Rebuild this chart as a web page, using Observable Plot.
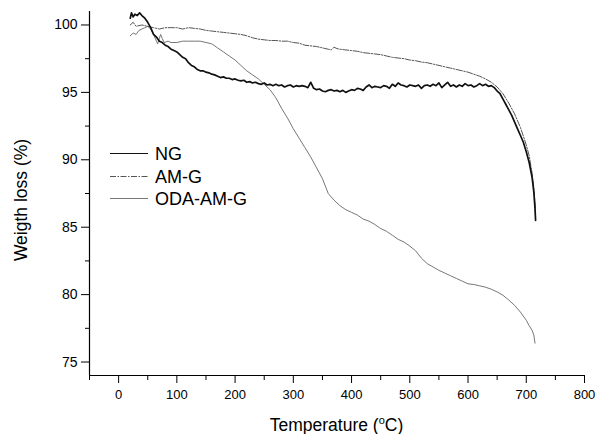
<!DOCTYPE html>
<html><head><meta charset="utf-8">
<script src="https://cdn.jsdelivr.net/npm/d3@7"></script>
<script src="https://cdn.jsdelivr.net/npm/@observablehq/plot@0.6"></script>
<style>
body{margin:0;background:#fff;}
#chart svg{font-family:Arial,"Liberation Sans",sans-serif;}
</style>
</head><body><div id="chart"></div>
<script>
const seriesNames = ["NG", "AM-G", "ODA-AM-G"];

const ngTemp = [20,22,25,28,32,36,40,45,50,55,60,65,70,75,80,85,90,95,100,105,110,115,120,125,130,135,140,145,150,155,160,165,170,175,180,185,190,195,200,205,210,215,220,225,230,235,240,245,250,255,260,265,270,275,280,285,290,295,300,305,310,315,320,325,330,335,340,345,350,355,360,365,370,375,380,385,390,395,400,405,410,415,420,425,430,435,440,445,450,455,460,465,470,475,480,485,490,495,500,505,510,515,520,525,530,535,540,545,550,555,560,565,570,575,580,585,590,595,600,605,610,615,620,625,630,635,640,645,650,655,660,665,670,675,680,685,690,695,700,705,710,713,715,716];
const ngWeight = [100.5,100.9,100.6,100.8,100.7,100.9,100.7,100.5,100.2,99.8,99.3,99.1,98.8,98.7,98.5,98.4,98.2,98.1,98.0,97.8,97.6,97.5,97.2,97.0,96.9,96.7,96.6,96.6,96.5,96.45,96.35,96.3,96.2,96.1,96.15,96.05,96.05,95.95,96.0,95.9,95.85,95.9,95.75,95.8,95.7,95.75,95.65,95.6,95.7,95.55,95.6,95.5,95.6,95.5,95.55,95.4,95.5,95.55,95.4,95.5,95.45,95.5,95.45,95.35,95.75,95.3,95.2,95.25,95.1,95.05,95.15,95.2,95.1,95.15,95.05,95.15,95.0,95.1,95.2,95.15,95.3,95.25,95.15,95.4,95.55,95.35,95.45,95.4,95.35,95.5,95.45,95.3,95.6,95.45,95.7,95.55,95.5,95.4,95.55,95.5,95.45,95.55,95.3,95.5,95.55,95.45,95.6,95.5,95.7,95.35,95.55,95.75,95.45,95.55,95.4,95.55,95.45,95.65,95.5,95.55,95.4,95.5,95.65,95.5,95.6,95.45,95.5,95.35,95.1,94.9,94.5,94.1,93.7,93.3,92.8,92.3,91.8,91.3,90.6,89.8,88.7,87.6,86.4,85.5];

const amTemp = [20,25,30,40,50,60,70,80,90,100,110,120,130,140,150,160,170,180,190,200,210,220,230,240,250,260,270,280,290,300,310,320,330,340,350,360,365,370,375,380,390,400,410,420,430,440,450,460,470,480,490,500,510,520,530,540,550,560,570,580,590,600,610,620,630,640,650,660,670,680,690,700,705,710,713,715,716];
const amWeight = [100.0,100.2,99.9,100.0,99.9,99.8,99.7,99.8,99.8,99.8,99.7,99.8,99.75,99.7,99.6,99.55,99.5,99.45,99.4,99.35,99.3,99.2,99.05,98.95,98.9,98.85,98.85,98.8,98.8,98.7,98.65,98.5,98.45,98.4,98.3,98.2,98.15,98.35,98.25,98.2,98.15,98.1,98.05,97.95,97.9,97.85,97.8,97.7,97.6,97.55,97.5,97.4,97.35,97.25,97.2,97.1,97.0,96.9,96.8,96.7,96.6,96.5,96.35,96.2,96.0,95.75,95.4,94.9,94.2,93.4,92.4,91.1,90.3,89.0,87.9,86.8,85.7];

const odaTemp = [20,25,30,35,40,45,50,55,60,65,67,70,72,75,78,85,90,100,110,120,130,140,150,160,170,180,190,200,210,220,230,240,250,260,270,280,290,300,310,320,330,340,350,360,370,380,390,400,410,420,430,440,450,460,470,480,490,500,510,520,530,540,550,560,570,580,590,600,610,620,630,640,650,660,670,680,690,700,705,710,713,715];
const odaWeight = [99.2,99.4,99.3,99.6,99.7,99.8,99.9,99.7,99.3,98.8,98.6,99.0,99.3,99.0,98.7,98.8,98.7,98.7,98.8,98.8,98.8,98.8,98.7,98.6,98.3,98.0,97.7,97.4,97.0,96.6,96.3,96.0,95.6,95.2,94.6,93.8,93.1,92.3,91.6,90.9,90.2,89.4,88.6,87.5,87.0,86.6,86.3,86.1,85.9,85.6,85.45,85.2,84.9,84.7,84.4,84.1,83.9,83.6,83.25,82.7,82.3,82.05,81.8,81.6,81.4,81.2,81.0,80.8,80.75,80.65,80.55,80.4,80.2,79.95,79.6,79.2,78.7,78.1,77.7,77.35,77.0,76.4];

const xMajorTicks = [0,100,200,300,400,500,600,700,800];
const xMinorTicks = [-50,50,150,250,350,450,550,650,750];
const yMajorTicks = [75,80,85,90,95,100];
const yMinorTicks = [77.5,82.5,87.5,92.5,97.5];
const xLabelMain = "Temperature (";
const xLabelSup = "o";
const xLabelEnd = "C)";
const yLabel = "Weigth loss (%)";

const toRows = (ts, ws, name) => ts.map((t, i) => ({t, w: ws[i], series: name}));
const ngRows = toRows(ngTemp, ngWeight, seriesNames[0]);
const amRows = toRows(amTemp, amWeight, seriesNames[1]);
const odaRows = toRows(odaTemp, odaWeight, seriesNames[2]);

const styles = [
  {stroke: "#111", strokeWidth: 1.7, dash: null},
  {stroke: "#555", strokeWidth: 1, dash: "6,1.5,1.5,1.5"},
  {stroke: "#777", strokeWidth: 1, dash: null}
];

const plot = Plot.plot({
  width: 597, height: 434,
  marginLeft: 89, marginRight: 13, marginTop: 11, marginBottom: 59,
  x: {domain: [-50, 800]},
  y: {domain: [74, 101]},
  style: {background: "white", color: "black", fontFamily: "Arial, 'Liberation Sans', sans-serif", overflow: "visible"},
  marks: [
    Plot.axisX({ticks: xMajorTicks, tickSize: 8, tickPadding: 6, fontSize: 13, label: null, tickFormat: d => String(d)}),
    Plot.axisX({ticks: xMinorTicks, tickSize: 5, text: null, label: null}),
    Plot.axisY({ticks: yMajorTicks, tickSize: 8, tickPadding: 4, fontSize: 14, label: null, tickFormat: d => String(d)}),
    Plot.axisY({ticks: yMinorTicks, tickSize: 4, text: null, label: null}),
    Plot.ruleX([-50], {stroke: "black", strokeWidth: 1.2}),
    Plot.ruleY([74], {stroke: "black", strokeWidth: 1.2}),
    Plot.line(odaRows, {x: "t", y: "w", stroke: styles[2].stroke, strokeWidth: styles[2].strokeWidth}),
    Plot.line(amRows, {x: "t", y: "w", stroke: styles[1].stroke, strokeWidth: styles[1].strokeWidth, strokeDasharray: styles[1].dash}),
    Plot.line(ngRows, {x: "t", y: "w", stroke: styles[0].stroke, strokeWidth: styles[0].strokeWidth, strokeLinejoin: "round"})
  ]
});
document.getElementById("chart").appendChild(plot);

const svg = d3.select(plot);
// axis titles
const xt = svg.append("text").attr("x", 336.5).attr("y", 431).attr("text-anchor", "middle")
  .attr("font-size", 17.5).attr("fill", "black");
xt.append("tspan").text(xLabelMain);
xt.append("tspan").attr("font-size", 11).attr("dy", -7).text(xLabelSup);
xt.append("tspan").attr("dy", 7).text(xLabelEnd);

svg.append("text").attr("transform", "translate(26.5,200) rotate(-90)")
  .attr("text-anchor", "middle").attr("font-size", 17.5).attr("fill", "black").text(yLabel);

// legend
const legendY = [153.5, 176.5, 198.5];
seriesNames.forEach((name, i) => {
  const g = svg.append("g");
  g.append("line").attr("x1", 110).attr("x2", 148).attr("y1", legendY[i]).attr("y2", legendY[i])
    .attr("stroke", styles[i].stroke).attr("stroke-width", i === 0 ? 1.2 : 1)
    .attr("stroke-dasharray", styles[i].dash);
  g.append("text").attr("x", 155).attr("y", legendY[i]).attr("dy", "0.36em")
    .attr("text-anchor", "start")
    .attr("font-size", 18).attr("fill", "black").text(name);
});
</script>
</body></html>
